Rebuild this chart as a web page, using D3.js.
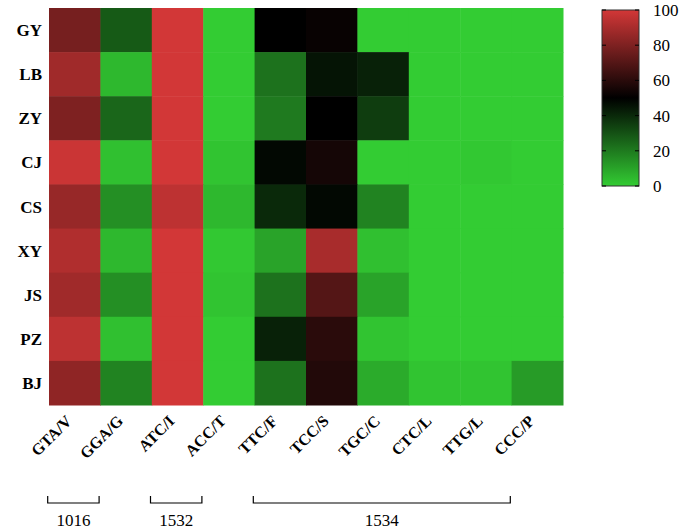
<!DOCTYPE html>
<html><head><meta charset="utf-8">
<script src="https://cdn.jsdelivr.net/npm/d3@7"></script>
<style>body{margin:0;background:#fff}text{font-family:"Liberation Serif","Times New Roman",serif}</style>
</head><body><svg id="c" width="685" height="530"></svg>
<script>
const rows = ["GY","LB","ZY","CJ","CS","XY","JS","PZ","BJ"];
const cols = ["GTA/V","GGA/G","ATC/I","ACC/T","TTC/F","TCC/S","TGC/C","CTC/L","TTG/L","CCC/P"];
const values = [
  [78,28,100,0,50,52,0,0,0,0],
  [88,5,100,0,22,45,42,0,0,0],
  [80,25,100,0,20,50,35,0,0,0],
  [98,3,100,2,48,55,0,0,1,0],
  [86,15,95,5,40,48,18,0,0,0],
  [92,5,100,1,10,90,3,0,0,0],
  [88,15,100,2,22,70,10,0,0,0],
  [95,3,100,0,42,60,2,0,0,0],
  [84,18,100,0,22,58,8,2,2,12]
];
const groups = [{label:"1016",from:0,to:1},{label:"1532",from:2,to:3},{label:"1534",from:4,to:9}];
const legendTicks = [0,20,40,60,80,100];

const svg = d3.select("#c");
const x = d3.scaleBand().domain(cols).range([49,563]);
const y = d3.scaleBand().domain(rows).range([8,405]);
const color = d3.scaleLinear().domain([0,50,100]).range(["#33cc33","#000000","#d23737"]);

const cells = [];
values.forEach((r,i)=>r.forEach((v,j)=>cells.push({r:rows[i],c:cols[j],v})));
svg.selectAll("rect.cell").data(cells).join("rect")
  .attr("x",d=>x(d.c)).attr("y",d=>y(d.r))
  .attr("width",x.bandwidth()+0.5).attr("height",y.bandwidth()+0.5)
  .attr("fill",d=>color(d.v));

svg.selectAll("text.row").data(rows).join("text")
  .attr("x",42).attr("y",d=>y(d)+y.bandwidth()/2+6)
  .attr("text-anchor","end").attr("font-weight","bold").attr("font-size",17).text(d=>d);

svg.selectAll("text.col").data(cols).join("text")
  .attr("transform",d=>`translate(${x(d)+x.bandwidth()/2-2},${422}) rotate(-45)`)
  .attr("text-anchor","end").attr("font-weight","bold").attr("font-size",16).text(d=>d);

// group brackets
const gx = i => x(cols[i]) + x.bandwidth()/2 - 27;
groups.forEach(g=>{
  const x0 = gx(g.from), x1 = gx(g.to);
  svg.append("path").attr("d",`M${x0},496V503H${x1}V496`).attr("fill","none").attr("stroke","#000").attr("stroke-width",1.2);
  svg.append("text").attr("x",(x0+x1)/2).attr("y",526).attr("text-anchor","middle").attr("font-size",17).text(g.label);
});

// colour bar
const defs = svg.append("defs");
const grad = defs.append("linearGradient").attr("id","g").attr("x1",0).attr("y1",1).attr("x2",0).attr("y2",0);
[0,50,100].forEach(v=>grad.append("stop").attr("offset",v+"%").attr("stop-color",color(v)));
const ly = d3.scaleLinear().domain([0,100]).range([186,10]);
svg.append("rect").attr("x",602).attr("y",10).attr("width",37).attr("height",176).attr("fill","url(#g)").attr("stroke","#333");
legendTicks.forEach(t=>{
  svg.append("line").attr("x1",602).attr("x2",606).attr("y1",ly(t)).attr("y2",ly(t)).attr("stroke","#000");
  svg.append("line").attr("x1",635).attr("x2",639).attr("y1",ly(t)).attr("y2",ly(t)).attr("stroke","#000");
  svg.append("text").attr("x",653).attr("y",ly(t)+6).attr("font-size",17).text(t);
});
</script></body></html>
